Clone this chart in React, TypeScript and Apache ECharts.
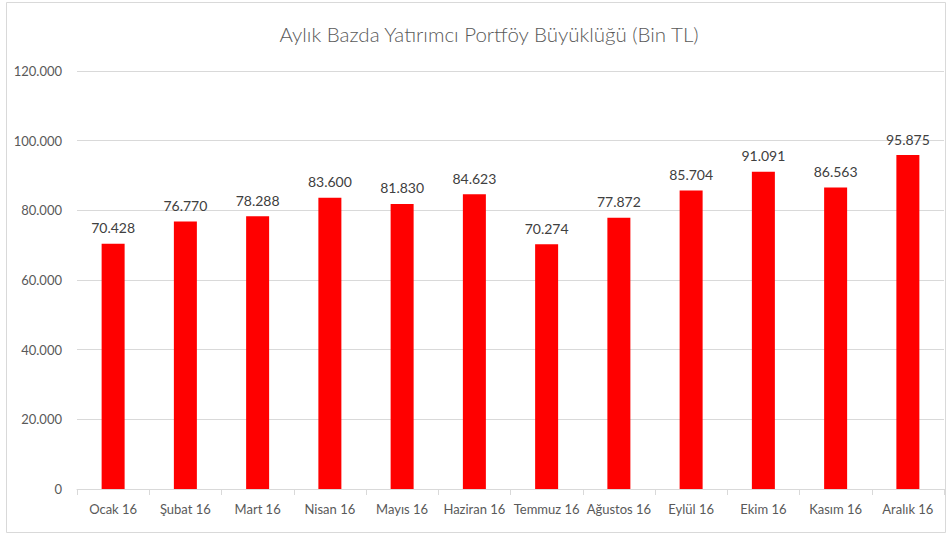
import React, { useEffect, useRef } from "react";
import * as echarts from "echarts";

const categories = ["Ocak 16", "Şubat 16", "Mart 16", "Nisan 16", "Mayıs 16", "Haziran 16", "Temmuz 16", "Ağustos 16", "Eylül 16", "Ekim 16", "Kasım 16", "Aralık 16"];
const values = [70428, 76770, 78288, 83600, 81830, 84623, 70274, 77872, 85704, 91091, 86563, 95875];
const titleText = "Aylık Bazda Yatırımcı Portföy Büyüklüğü (Bin TL)";

const fmt = (v: number) => {
  const s = Math.round(v).toString();
  return s.replace(/\B(?=(\d{3})+(?!\d))/g, ".");
};

export default function App() {
  const ref = useRef<HTMLDivElement>(null);
  useEffect(() => {
    if (!ref.current) return;
    const chart = echarts.init(ref.current, null, { renderer: "svg" });
    const font = "Lato, 'Open Sans', sans-serif";
    chart.setOption({
      animation: false,
      backgroundColor: "#ffffff",
      title: {
        text: titleText,
        left: 484,
        top: 18,
        textAlign: "center",
        textStyle: { fontFamily: font, fontSize: 20.5, fontWeight: 300, color: "#595959" },
      },
      graphic: [
        {
          type: "rect",
          shape: { x: 6.5, y: 2.5, width: 939, height: 530 },
          style: { fill: "none", stroke: "#d9d9d9", lineWidth: 1 },
          silent: true,
        },
      ],
      grid: { left: 77, right: 4, top: 71, bottom: 46, containLabel: false },
      xAxis: {
        type: "category",
        data: categories,
        axisLine: { show: true, lineStyle: { color: "#d9d9d9", width: 1 } },
        axisTick: { show: true, length: 6, lineStyle: { color: "#d9d9d9" } },
        axisLabel: { color: "#595959", fontFamily: font, fontSize: 13, margin: 13, interval: 0 },
      },
      yAxis: {
        type: "value",
        min: 0,
        max: 120000,
        interval: 20000,
        axisLine: { show: false },
        axisTick: { show: false },
        splitLine: { lineStyle: { color: "#d9d9d9", width: 1 } },
        axisLabel: { color: "#595959", fontFamily: font, fontSize: 13, margin: 15, formatter: (v: number) => fmt(v) },
      },
      series: [
        {
          type: "bar",
          data: values,
          barWidth: 23,
          itemStyle: { color: "#ff0000" },
          label: {
            show: true,
            position: "top",
            distance: 9,
            color: "#404040",
            fontFamily: font,
            fontSize: 14,
            formatter: (p: any) => fmt(p.value),
          },
        },
      ],
    });
    return () => chart.dispose();
  }, []);
  return <div ref={ref} style={{ width: 948, height: 535, position: "absolute", left: 0, top: 0 }} />;
}
